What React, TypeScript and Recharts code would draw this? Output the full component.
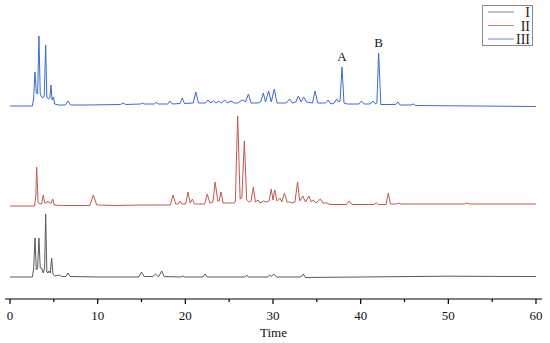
import { LineChart, Line, XAxis, YAxis, Legend, ReferenceDot } from "recharts";

// chromatogram points: [time, height above the trace's own baseline]
const traceI: [number, number][] = [
  [0, 0], [2.55, 0], [2.7, 8], [2.85, 39], [3.0, 7], [3.15, 9], [3.3, 39], [3.45, 9],
  [3.6, 9], [3.8, 4], [3.95, 10], [4.07, 63], [4.2, 5], [4.35, 4], [4.45, 6], [4.6, 4],
  [4.75, 19], [4.9, 3], [5.1, 1], [5.6, 2], [5.9, 0.5], [6.4, 0.5], [6.6, 4], [6.85, 0.5],
  [10, 0], [14.7, 0], [15.0, 5], [15.3, 0.5], [16.3, 0.5], [16.6, 3], [16.9, 0.5], [17.0, 1],
  [17.3, 6], [17.6, 0.5], [19.5, 0], [19.7, 1], [19.9, 0], [22.0, 0], [22.25, 3], [22.5, 0],
  [26.8, 0], [27.0, 2], [27.2, 0], [29.4, 0], [29.6, 2], [29.8, 0.5], [30.1, 3], [30.4, 0],
  [33.2, 0], [33.45, 3], [33.7, -0.5], [40, 0], [50, 0.8], [55, 0.6], [60, 0.5],
];

const traceII: [number, number][] = [
  [0, 0], [2.8, 0], [2.95, 10], [3.04, 39], [3.2, 4], [3.4, 2], [3.6, 2], [3.8, 11],
  [3.95, 3], [4.15, 3], [4.3, 5], [4.5, 3], [4.7, 3], [4.87, 7], [5.05, 1], [6, 0.5],
  [9.1, 0.5], [9.5, 11], [9.9, 1], [12, 0.5], [15, 1], [18.3, 1], [18.6, 11], [18.9, 2],
  [19.2, 2], [19.4, 5], [19.6, 2], [20.05, 2], [20.3, 14], [20.55, 3], [20.8, 7], [21.05, 2],
  [22.2, 2], [22.5, 12], [22.8, 3], [23.15, 4], [23.4, 24], [23.7, 5], [23.85, 5], [24.07, 14],
  [24.3, 3], [25.5, 3], [25.7, 4], [25.97, 90], [26.25, 7], [26.45, 8], [26.73, 65], [27.0, 6],
  [27.3, 4], [27.5, 5], [27.75, 19], [28.0, 4], [28.3, 6], [28.5, 3], [28.9, 5], [29.3, 4],
  [29.55, 5], [29.8, 17], [30.0, 6], [30.2, 16], [30.45, 5], [30.6, 6], [30.8, 8], [31.0, 4],
  [31.3, 13], [31.6, 4], [31.9, 4], [32.2, 3], [32.5, 4], [32.8, 24], [33.05, 5], [33.4, 10],
  [33.7, 4], [34.1, 10], [34.35, 4], [34.6, 6], [34.9, 3], [35.4, 7], [35.7, 3], [36.1, 3],
  [36.5, 1.5], [38.4, 1.5], [38.7, 5], [39.0, 1.5], [41.5, 1.5], [41.8, 3], [42.0, 1.5],
  [42.9, 1.5], [43.15, 13], [43.4, 2], [44.1, 2], [44.3, 3], [44.6, 2], [51.8, 2], [52.1, 3],
  [52.4, 2], [60, 2],
];

const traceIII: [number, number][] = [
  [0, 0], [2.55, 0], [2.7, 8], [2.85, 34], [3.0, 13], [3.15, 12], [3.3, 70], [3.45, 12],
  [3.7, 8], [3.9, 10], [4.07, 61], [4.2, 9], [4.4, 7], [4.55, 8], [4.67, 21], [4.8, 6],
  [4.95, 9], [5.1, 2], [5.5, 1], [6.3, 1], [6.6, 5], [6.9, 1], [9, 1], [12.6, 1.5],
  [12.9, 3], [13.2, 1.5], [14.9, 2], [15.1, 3], [15.3, 2], [16.5, 2], [16.7, 4], [16.9, 2],
  [18.0, 2], [18.25, 5], [18.5, 2], [19.4, 2.5], [19.65, 8], [19.9, 2.5], [20.9, 3], [21.2, 14],
  [21.5, 3], [22.3, 3], [22.6, 6], [22.9, 3], [23.2, 5], [23.5, 3], [23.8, 5], [24.1, 3],
  [24.5, 6], [24.8, 3], [25.2, 5], [25.6, 3], [26.0, 3], [26.3, 5], [26.6, 6], [26.85, 4],
  [27.2, 12], [27.5, 3], [28.3, 3], [28.6, 4], [28.9, 13], [29.15, 4], [29.5, 15], [29.8, 4],
  [30.15, 17], [30.45, 3], [31.5, 3], [31.9, 7], [32.2, 3], [32.6, 4], [32.9, 10], [33.2, 4],
  [33.5, 9], [33.8, 4], [34.5, 3], [34.8, 15], [35.1, 3], [36.0, 3], [36.3, 6], [36.6, 2],
  [37.0, 3], [37.25, 7], [37.5, 4], [37.65, 5], [37.87, 39], [38.1, 3], [38.5, 2], [39.8, 2],
  [40.1, 5], [40.4, 2], [41.1, 2], [41.4, 5], [41.7, 2], [41.85, 3], [42.05, 53], [42.3, 1.5],
  [44.0, 1.5], [44.25, 4], [44.5, 1], [45.7, 1], [46, 2], [46.3, 0.5], [60, -0.5],
];

const peakMarks = [
  { name: "A", t: 37.87, h: 39 },
  { name: "B", t: 42.05, h: 53 },
];

const timeTicks = [0, 5, 10, 15, 20, 25, 30, 35, 40, 45, 50, 55, 60];

// vertical offsets so the three runs are stacked
const OFFSET_I = 22;
const OFFSET_II = 93;
const OFFSET_III = 193;

const toRows = (pts: [number, number][], offset: number) =>
  pts.map(([t, h]) => ({ t, v: h + offset }));

const rowsI = toRows(traceI, OFFSET_I);
const rowsII = toRows(traceII, OFFSET_II);
const rowsIII = toRows(traceIII, OFFSET_III);

const series = [
  { name: "I", color: "#5a5a5a", rows: rowsI },
  { name: "II", color: "#c25a4c", rows: rowsII },
  { name: "III", color: "#3a6ad6", rows: rowsIII },
];

const serif = "'Liberation Serif', 'DejaVu Serif', serif";

const TimeTick = (props: any) => {
  const { x, y, payload } = props;
  const major = payload.value % 10 === 0;
  return (
    <g>
      <line x1={x} y1={y} x2={x} y2={y + (major ? 5 : 3)} stroke="#000" strokeWidth={1.2} />
      {major && (
        <text x={x} y={y + 21} textAnchor="middle" fontSize={13} fontFamily={serif} fill="#111">
          {payload.value}
        </text>
      )}
    </g>
  );
};

const BoxLegend = () => (
  <svg width={52} height={41}>
    <rect x={0.5} y={0.5} width={50} height={40} fill="#fff" stroke="#8a8a8a" />
    {series.map((s, i) => (
      <g key={s.name}>
        <line x1={6} x2={32} y1={7 + i * 13.5} y2={7 + i * 13.5} stroke={s.color} strokeWidth={1} opacity={0.75} />
        <text x={48} y={12 + i * 13.5} textAnchor="end" fontSize={14} fontFamily={serif} fill="#222">
          {s.name}
        </text>
      </g>
    ))}
  </svg>
);

export default function App() {
  return (
    <div style={{ position: "absolute", left: 0, top: 0 }}>
      <LineChart width={550} height={343} margin={{ top: 19, right: 8, bottom: 4, left: 5 }}>
        <XAxis
          dataKey="t"
          type="number"
          domain={[0, 60]}
          ticks={timeTicks}
          interval={0}
          padding={{ left: 5, right: 6 }}
          height={40}
          tickSize={0}
          tickMargin={0}
          tick={<TimeTick />}
          axisLine={{ stroke: "#000", strokeWidth: 1.2 }}
          label={{ value: "Time", position: "insideBottom", offset: 2, fontSize: 13, fontFamily: serif, fill: "#111" }}
        />
        <YAxis hide type="number" domain={[0, 280]} />
        <Legend
          layout="vertical"
          align="center"
          verticalAlign="middle"
          content={<BoxLegend />}
          wrapperStyle={{ position: "absolute", left: 482, top: 5, width: 52, height: 41 }}
        />
        {series.map((s) => (
          <Line
            key={s.name}
            name={s.name}
            data={s.rows}
            dataKey="v"
            type="linear"
            stroke={s.color}
            strokeWidth={1}
            dot={false}
            isAnimationActive={false}
          />
        ))}
        {peakMarks.map((p) => (
          <ReferenceDot
            key={p.name}
            x={p.t}
            y={p.h + OFFSET_III}
            r={0}
            stroke="none"
            fill="none"
            label={{ value: p.name, position: "top", offset: 6, fontSize: 13, fontFamily: serif, fill: "#111" }}
          />
        ))}
      </LineChart>
    </div>
  );
}
